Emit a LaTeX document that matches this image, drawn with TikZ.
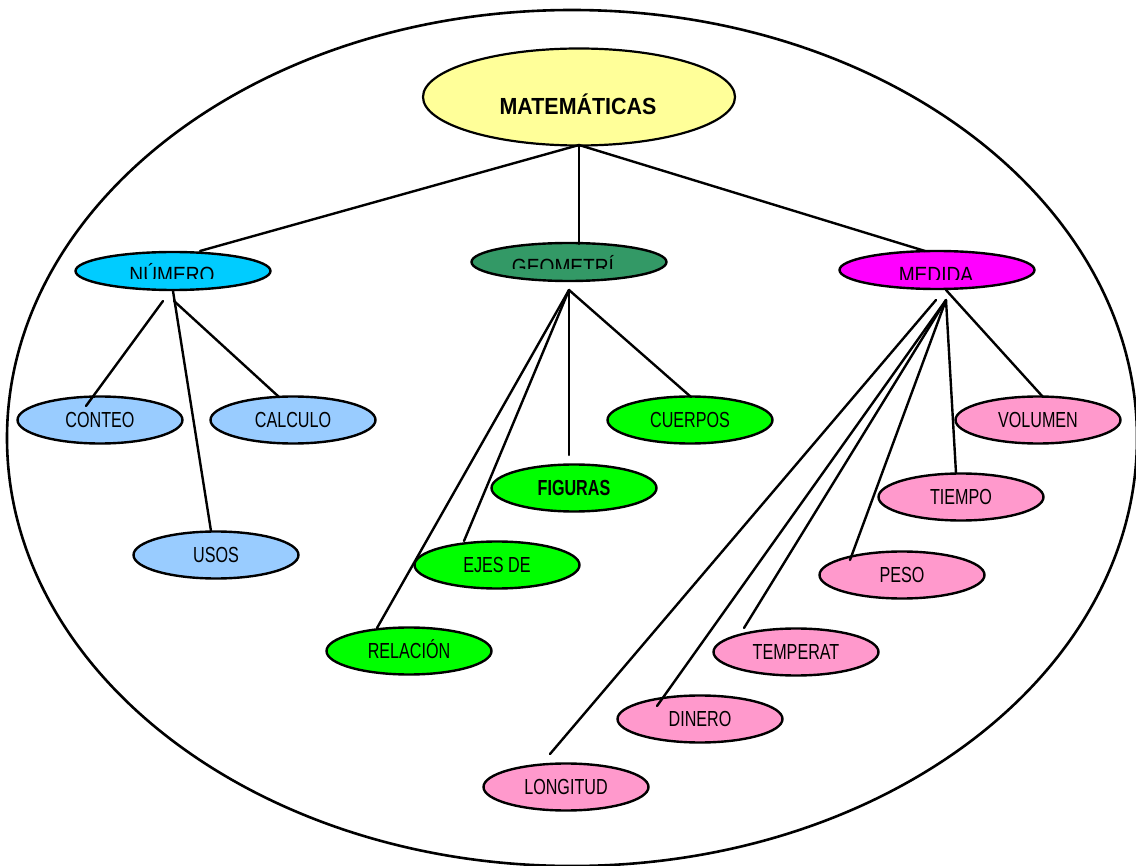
\documentclass[tikz,border=0pt]{standalone}
\usepackage{fontspec}
\setmainfont{Liberation Sans}
\newfontfamily\narrowfont[FakeStretch=0.74]{Liberation Sans}
\newfontfamily\widefont[FakeStretch=0.87]{Liberation Sans}
\newfontfamily\titlefont[FakeStretch=0.92]{Liberation Sans}
\usetikzlibrary{shapes.geometric}
\definecolor{cYellow}{HTML}{FFFF99}
\definecolor{cNumero}{HTML}{00CCFF}
\definecolor{cGeo}{HTML}{339966}
\definecolor{cMedida}{HTML}{FF00FF}
\definecolor{cLightBlue}{HTML}{99CCFF}
\definecolor{cGreen}{HTML}{00FF00}
\definecolor{cPink}{HTML}{FF99CC}
\begin{document}
\begin{tikzpicture}[x=1pt,y=-1pt,
  bub/.style={ellipse, draw=black, line width=2.4pt, inner sep=0pt,
    minimum width=165pt, minimum height=47pt,
    text height=15.6pt, text depth=0pt,
    font=\narrowfont\fontsize{21.8}{24}\selectfont},
  head/.style={ellipse, draw=black, line width=2.4pt, inner sep=0pt,
    minimum width=195pt, minimum height=38pt},
  headtxt/.style={anchor=north, inner sep=0pt, text height=15.6pt, text depth=0pt,
    font=\widefont\fontsize{22}{24}\selectfont},
  link/.style={line width=2.4pt, line cap=round}]
\useasboundingbox (0,0) rectangle (1136,866);
\path[fill=white] (0,0) rectangle (1136,866);
% outer ellipse
\draw[line width=2.6pt] (572,438) ellipse [x radius=565, y radius=428];

% main node
\node[ellipse, draw=black, line width=2.2pt, fill=cYellow, inner sep=0pt,
  minimum width=312pt, minimum height=97pt] (mat) at (579,97) {};
\node[inner sep=0pt, text height=16.7pt, text depth=0pt,
  font=\titlefont\bfseries\fontsize{23.3}{26}\selectfont] (matT) at (578,106) {MATEMÁTICAS};

% heads
\node[head, fill=cNumero] (num) at (173,271) {};
\node[head, fill=cGeo] (geo) at (569,262) {};
\node[head, fill=cMedida] (med) at (937,270) {};
\begin{scope}
  \clip (100,255) rectangle (250,279);
  \node[headtxt] (numT) at (172,267) {NÚMERO};
\end{scope}
\begin{scope}
  \clip (490,245) rectangle (640,269);
  \node[headtxt] (geoT) at (563,259) {GEOMETRÍ};
\end{scope}
\begin{scope}
  \clip (870,255) rectangle (1010,280);
  \node[headtxt] (medT) at (936,267) {MEDIDA};
\end{scope}

% leaves
\node[bub, fill=cLightBlue] (conteo) at (100,420) {CONTEO};
\node[bub, fill=cLightBlue] (calculo) at (293,420) {CALCULO};
\node[bub, fill=cLightBlue] (usos) at (216,555) {USOS};
\node[bub, fill=cGreen] (cuerpos) at (690,420) {CUERPOS};
\node[bub, fill=cGreen, font=\narrowfont\bfseries\fontsize{21.8}{24}\selectfont] (figuras) at (574,488) {FIGURAS};
\node[bub, fill=cGreen] (ejes) at (497,565) {EJES DE};
\node[bub, fill=cGreen] (relacion) at (409,651) {RELACIÓN};
\node[bub, fill=cPink] (volumen) at (1038,420) {VOLUMEN};
\node[bub, fill=cPink] (tiempo) at (961,497) {TIEMPO};
\node[bub, fill=cPink] (peso) at (902,575) {PESO};
\node[bub, fill=cPink] (temperat) at (796,652) {TEMPERAT};
\node[bub, fill=cPink] (dinero) at (700,719) {DINERO};
\node[bub, fill=cPink] (longitud) at (566,787) {LONGITUD};

% connector end points
\coordinate (matB) at (579,145);
\coordinate (numTop) at (200,251);
\coordinate (geoTop) at (579,244);
\coordinate (medTop) at (925,251);
\coordinate (numA) at (163,301);
\coordinate (numB) at (173,291);
\coordinate (numC) at (174,301);
\coordinate (conteoE) at (86,406);
\coordinate (usosE) at (211,531);
\coordinate (calculoE) at (279,397);
\coordinate (geoA) at (569,290);
\coordinate (cuerposE) at (691,397);
\coordinate (figurasE) at (569,455);
\coordinate (ejesE) at (464,541);
\coordinate (relacionE) at (377,628);
\coordinate (medA) at (946,300);
\coordinate (medB) at (936,300);
\coordinate (medC) at (946,290);
\coordinate (volumenE) at (1043,397);
\coordinate (tiempoE) at (956,473);
\coordinate (pesoE) at (850,560);
\coordinate (temperatE) at (744,628);
\coordinate (dineroE) at (657,706);
\coordinate (longitudE) at (550,754);

% connectors
\draw[link] (matB) -- (numTop);
\draw[link] (matB) -- (geoTop);
\draw[link] (matB) -- (medTop);
\draw[link] (numA) -- (conteoE);
\draw[link] (numB) -- (usosE);
\draw[link] (numC) -- (calculoE);
\draw[link] (geoA) -- (cuerposE);
\draw[link] (geoA) -- (figurasE);
\draw[link] (geoA) -- (ejesE);
\draw[link] (geoA) -- (relacionE);
\draw[link] (medC) -- (volumenE);
\draw[link] (medA) -- (tiempoE);
\draw[link] (medA) -- (pesoE);
\draw[link] (medA) -- (temperatE);
\draw[link] (medA) -- (dineroE);
\draw[link] (medB) -- (longitudE);
\end{tikzpicture}
\end{document}
